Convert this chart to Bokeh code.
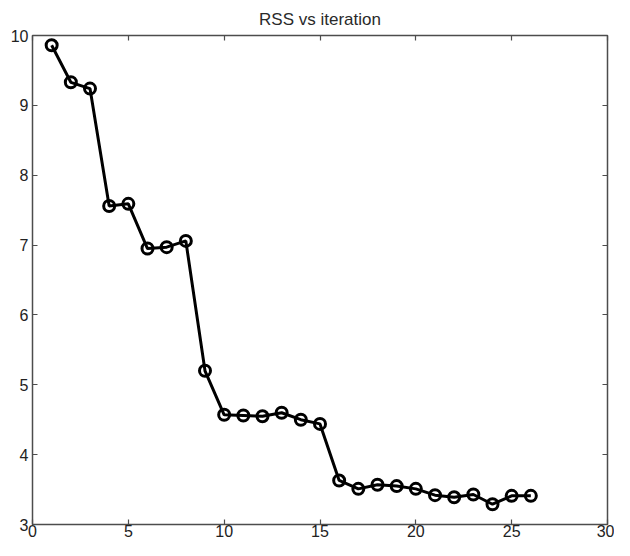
from bokeh.plotting import figure
from bokeh.models import LinearAxis, FixedTicker, Range1d, ColumnDataSource
from bokeh.embed import file_html
from bokeh.resources import INLINE

iteration = list(range(1, 27))
rss = [9.86, 9.33, 9.24, 7.56, 7.59, 6.95, 6.97, 7.06, 5.20, 4.57,
       4.56, 4.55, 4.60, 4.50, 4.44, 3.63, 3.51, 3.57, 3.55, 3.51,
       3.42, 3.39, 3.43, 3.29, 3.41, 3.41]
x_ticks = [0, 5, 10, 15, 20, 25, 30]
y_ticks = [3, 4, 5, 6, 7, 8, 9, 10]
title_text = "RSS vs iteration"

FONT = "Liberation Sans"

src = ColumnDataSource(data=dict(x=iteration, y=rss))

p = figure(width=614, height=540, output_backend="svg", toolbar_location=None,
           x_range=Range1d(0, 30), y_range=Range1d(3, 10),
           min_border_left=32, min_border_right=7, min_border_top=35,
           min_border_bottom=16, x_axis_location=None, y_axis_location=None)

p.title.text = title_text
p.title.align = "center"
p.title.text_font = FONT
p.title.text_font_size = "17px"
p.title.text_font_style = "normal"
p.title.text_color = "#2a2a2a"
p.title.standoff = 14

p.grid.visible = False
p.outline_line_color = "#4d4d4d"
p.outline_line_width = 1.5
p.background_fill_color = "white"
p.border_fill_color = "white"


def style_axis(ax, labels=True, standoff=0):
    ax.axis_line_color = None
    ax.major_tick_in = 5
    ax.major_tick_out = 0
    ax.major_tick_line_color = "#4d4d4d"
    ax.major_tick_line_width = 1.2
    ax.minor_tick_line_color = None
    ax.major_label_text_font = FONT
    if labels:
        ax.major_label_text_color = "#222222"
        ax.major_label_text_font_size = "16px"
        ax.major_label_standoff = standoff
    else:
        ax.major_label_text_color = None
        ax.major_label_text_font_size = "0px"
        ax.major_label_standoff = 0


xb = LinearAxis(ticker=FixedTicker(ticks=x_ticks))
style_axis(xb, standoff=0)
p.add_layout(xb, "below")
xt = LinearAxis(ticker=FixedTicker(ticks=x_ticks))
style_axis(xt, labels=False)
p.add_layout(xt, "above")
yl = LinearAxis(ticker=FixedTicker(ticks=y_ticks))
style_axis(yl, standoff=4)
p.add_layout(yl, "left")
yr = LinearAxis(ticker=FixedTicker(ticks=y_ticks))
style_axis(yr, labels=False)
p.add_layout(yr, "right")

p.line("x", "y", source=src, line_color="black", line_width=3)
p.scatter("x", "y", source=src, marker="circle", size=11, fill_alpha=0,
          line_color="black", line_width=3)

open("out.html", "w").write(file_html(p, INLINE))
